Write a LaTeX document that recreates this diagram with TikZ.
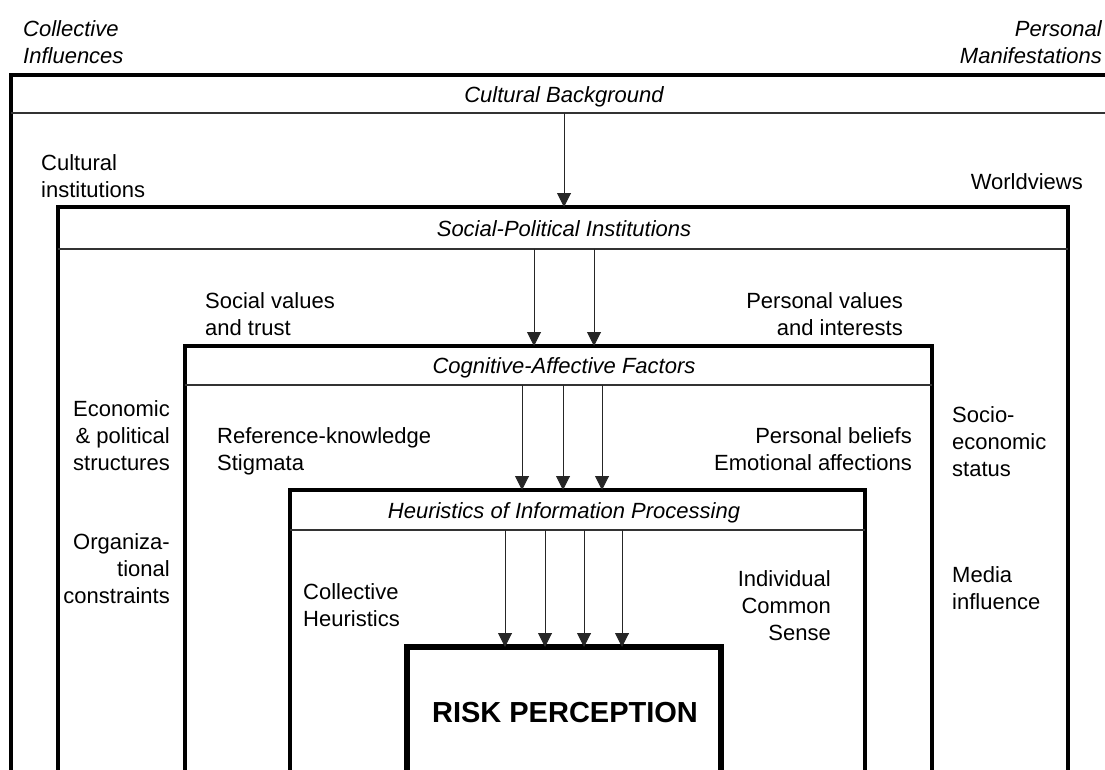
\documentclass[tikz,border=0pt]{standalone}
\usepackage{fontspec}
\setmainfont{Liberation Sans}
\usepackage{tikz}
\usetikzlibrary{arrows.meta}

\begin{document}
\begin{tikzpicture}[
  x=1pt,y=-1pt,
  frame/.style={draw,line width=3.2pt},
  riskframe/.style={draw,line width=6.5pt},
  sepline/.style={draw,line width=1.3pt,black!80},
  arr/.style={-{Triangle[width=14pt,length=14pt]},line width=1pt,black!85},
  every node/.style={inner sep=0pt,font=\fontsize{22}{27}\selectfont},
  hd/.style={anchor=base,font=\fontsize{22}{27}\selectfont\itshape},
  lab/.style={align=left},
  rlab/.style={align=right},
]
\useasboundingbox (0,0) rectangle (1105,769);
\clip (0,0) rectangle (1105,769);

% nested frames, open at the bottom
\draw[frame] (11,75) rectangle (1120,800);
\draw[sepline] (11,113) -- (1120,113);
\draw[frame] (58,207) rectangle (1068,800);
\draw[sepline] (58,249) -- (1068,249);
\draw[frame] (185,346) rectangle (932,800);
\draw[sepline] (185,385) -- (932,385);
\draw[frame] (290,490) rectangle (865,800);
\draw[sepline] (290,530) -- (865,530);
\draw[riskframe] (407,647) rectangle (721,800);

% header texts
\node[hd] (hd1) at (564,102) {Cultural Background};
\node[hd] (hd2) at (564,236) {Social-Political Institutions};
\node[hd] (hd3) at (564,373) {Cognitive-Affective Factors};
\node[hd] (hd4) at (564,518) {Heuristics of Information Processing};
\node[anchor=base] (risk) at (565,722) {\fontsize{29}{34}\selectfont\bfseries RISK PERCEPTION};

% corner captions
\node[lab,anchor=north west,font=\fontsize{22}{27}\selectfont\itshape] (coll) at (23,20) {Collective\\Influences};
\node[rlab,anchor=north east,font=\fontsize{22}{27}\selectfont\itshape] (pers) at (1102,20) {Personal\\Manifestations};

% side labels
\node[lab,anchor=north west] (culti) at (41,154) {Cultural\\institutions};
\node[anchor=base east] (world) at (1083,189) {Worldviews};
\node[lab,anchor=north west] (socv) at (205,292) {Social values\\and trust};
\node[rlab,anchor=north east] (perv) at (903,292) {Personal values\\and interests};
\node[rlab,anchor=north east] (econ) at (170,400) {Economic\\\& political\\structures};
\node[lab,anchor=north west] (refk) at (217,427) {Reference-knowledge\\Stigmata};
\node[rlab,anchor=north east] (perb) at (912,427) {Personal beliefs\\Emotional affections};
\node[lab,anchor=north west] (socio) at (952,406) {Socio-\\economic\\status};
\node[rlab,anchor=north east] (orga) at (170,533) {Organiza-\\tional\\constraints};
\node[lab,anchor=north west] (collh) at (303,583) {Collective\\Heuristics};
\node[rlab,anchor=north east] (indiv) at (831,570) {Individual\\Common\\Sense};
\node[lab,anchor=north west] (media) at (952,566) {Media\\influence};

% arrow ends on the separator lines and box tops
\coordinate (s1) at (564,113); \coordinate (t2) at (564,207);
\coordinate (s2) at (564,249); \coordinate (t3) at (564,346);
\coordinate (s3) at (563,385); \coordinate (t4) at (563,490);
\coordinate (s4) at (564,530); \coordinate (t5) at (564,647);

\draw[arr] (s1) -- (t2);
\foreach \dx in {-30,30}
  \draw[arr] ([xshift=\dx pt]s2) -- ([xshift=\dx pt]t3);
\foreach \dx in {-41,0,39}
  \draw[arr] ([xshift=\dx pt]s3) -- ([xshift=\dx pt]t4);
\foreach \dx in {-59,-19,20,58}
  \draw[arr] ([xshift=\dx pt]s4) -- ([xshift=\dx pt]t5);
\end{tikzpicture}
\end{document}
